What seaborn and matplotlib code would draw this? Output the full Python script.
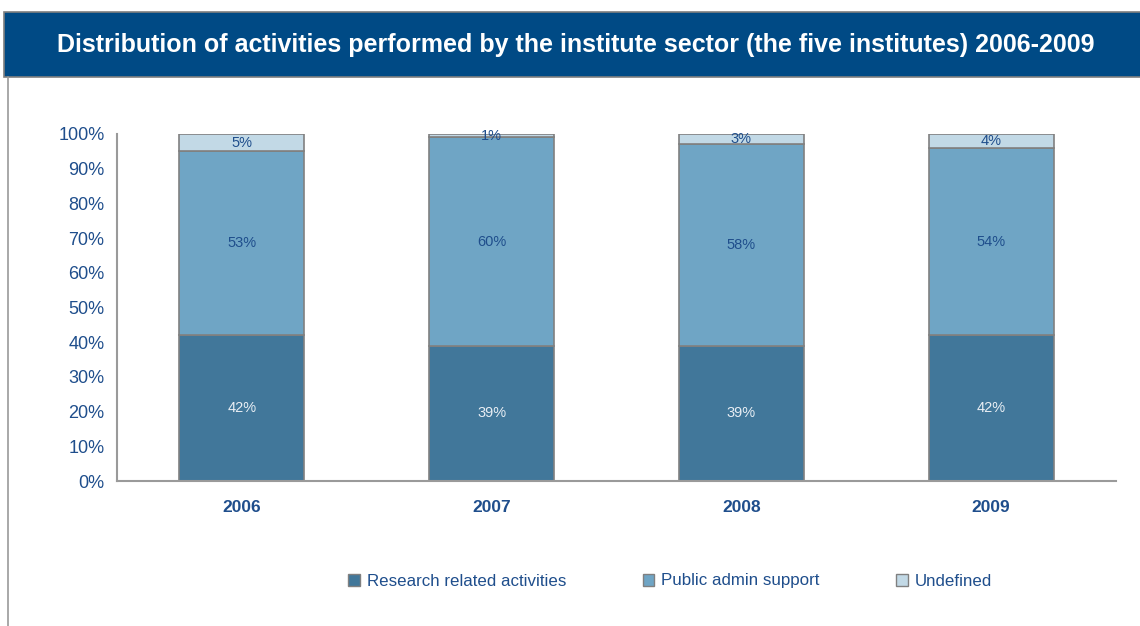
import pandas as pd
import seaborn as sns
import matplotlib.pyplot as plt
from matplotlib.patches import Rectangle
from matplotlib.lines import Line2D

# data
years = ['2006', '2007', '2008', '2009']
research = [42, 39, 39, 42]
public_admin = [53, 60, 58, 54]
undefined = [5, 1, 3, 4]
series_names = ['Research related activities', 'Public admin support', 'Undefined']
colors = ['#41779A', '#6FA5C5', '#C2D9E6']
label_colors = ['#E8EEF4', '#1F4E8C', '#1F4E8C']
text_blue = '#1F4E8C'

sns.set_style('white')
plt.rcParams['font.family'] = ['Liberation Sans', 'DejaVu Sans']

df = pd.DataFrame({'year': years, 'research': research,
                   'public': public_admin, 'undefined': undefined})

fig = plt.figure(figsize=(11.4, 6.26), dpi=100)
ax = fig.add_axes([117 / 1140, 1 - 481 / 626, (1116 - 117) / 1140, 347 / 626])

# title banner
fig.patches.append(Rectangle((4 / 1140, 1 - 77 / 626), 1, 65 / 626, transform=fig.transFigure,
                             facecolor='#004A85', edgecolor='#7F7F7F', linewidth=1.2))
fig.lines.append(Line2D([8 / 1140, 8 / 1140], [0, 1 - 77 / 626], transform=fig.transFigure,
                        color='#9A9A9A', linewidth=1.2))
fig.text(576 / 1140, 1 - 45 / 626,
         'Distribution of activities performed by the institute sector (the five institutes) 2006-2009',
         color='white', fontsize=18, fontweight='bold', ha='center', va='center')

bottom = [0, 0, 0, 0]
for col, name, c, lc in zip(['research', 'public', 'undefined'], series_names, colors, label_colors):
    sns.barplot(data=df, x='year', y=col, color=c, width=0.5, bottom=bottom,
                edgecolor='#808080', linewidth=1.2, label=name, ax=ax, saturation=1)
    cont = ax.containers[-1]
    ax.bar_label(cont, labels=[f'{v}%' for v in df[col]], label_type='center',
                 color=lc, fontsize=10.5)
    bottom = [b + v for b, v in zip(bottom, df[col])]

ax.set_ylim(0, 100)
ax.set_xlim(-0.5, 3.5)
ax.set_yticks(range(0, 101, 10))
ax.set_yticklabels([f'{v}%' for v in range(0, 101, 10)])
ax.set_xlabel('')
ax.set_ylabel('')
ax.set_xticks([-0.5, 0.5, 1.5, 2.5, 3.5], minor=True)
ax.tick_params(axis='x', which='major', length=0, pad=14, labelsize=12.5, labelcolor=text_blue)
ax.tick_params(axis='x', which='minor', length=6, color='#9A9A9A', width=1.2, direction='out')
ax.tick_params(axis='y', length=5, color='#9A9A9A', width=1.2, direction='out',
               labelsize=13, labelcolor=text_blue, pad=4)
for lab in ax.get_xticklabels():
    lab.set_fontweight('bold')

sns.despine(ax=ax)
for s in ['left', 'bottom']:
    ax.spines[s].set_color('#9A9A9A')
    ax.spines[s].set_linewidth(1.5)

if ax.legend_:
    ax.legend_.remove()
handles = [Rectangle((0, 0), 1, 1, facecolor=c, edgecolor='#808080', linewidth=1) for c in colors]
leg = fig.legend(handles, series_names, loc='center', bbox_to_anchor=(670 / 1140, 1 - 581 / 626),
                 ncol=3, frameon=False, fontsize=12.2, handlelength=0.7, handleheight=0.7,
                 handletextpad=0.4, columnspacing=4.5)
for t in leg.get_texts():
    t.set_color(text_blue)

fig.savefig('out.png', dpi=100)
